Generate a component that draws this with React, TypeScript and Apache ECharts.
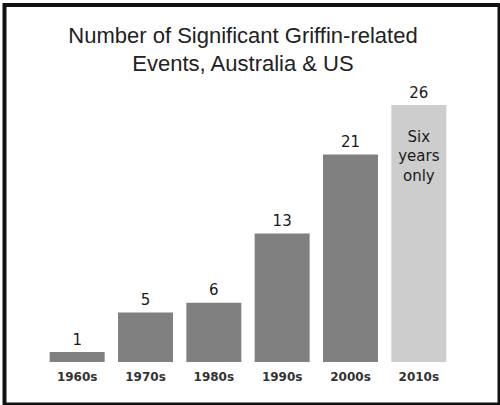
import React, { useEffect, useRef } from "react";
import * as echarts from "echarts";

const categories = ["1960s", "1970s", "1980s", "1990s", "2000s", "2010s"];
const values = [1, 5, 6, 13, 21, 26];
const partialDecade = "2010s";
const partialNote = "Six\nyears\nonly";
const titleText = "Number of Significant Griffin-related\nEvents, Australia & US";

export default function App() {
  const ref = useRef<HTMLDivElement>(null);
  useEffect(() => {
    if (!ref.current) return;
    const chart = echarts.init(ref.current, null, { renderer: "svg" });
    const barData = values.map((v, i) => ({
      value: v,
      itemStyle: { color: categories[i] === partialDecade ? "#cdcdcd" : "#808080" },
    }));
    const noteData = values.map((v, i) => (categories[i] === partialDecade ? v : null));
    chart.setOption({
      animation: false,
      backgroundColor: "#ffffff",
      title: {
        text: titleText,
        left: 238,
        top: 16,
        textAlign: "center",
        textStyle: {
          fontFamily: "Liberation Sans, Arial, sans-serif",
          fontSize: 22,
          fontWeight: "normal",
          color: "#222",
          lineHeight: 28,
        },
      },
      graphic: [
        {
          type: "rect",
          shape: { x: 4.5, y: 5, width: 495, height: 399.5 },
          style: { fill: "none", stroke: "#111", lineWidth: 4 },
          silent: true,
        },
      ],
      grid: { left: 43, right: 47, top: 105, bottom: 43 },
      xAxis: {
        type: "category",
        data: categories,
        axisLine: { show: false },
        axisTick: { show: false },
        axisLabel: {
          margin: 9,
          fontFamily: "DejaVu Sans, Verdana, sans-serif",
          fontSize: 12,
          fontWeight: "bold",
          color: "#333",
        },
      },
      yAxis: {
        type: "value",
        min: 0,
        max: 26,
        show: false,
        splitLine: { show: false },
      },
      series: [
        {
          type: "bar",
          data: barData,
          barWidth: 55,
          label: {
            show: true,
            position: "top",
            distance: 5,
            fontFamily: "DejaVu Sans, Verdana, sans-serif",
            fontSize: 15,
            color: "#1a1a1a",
          },
        },
        {
          type: "bar",
          data: noteData,
          barWidth: 55,
          barGap: "-100%",
          itemStyle: { color: "rgba(0,0,0,0)" },
          silent: true,
          label: {
            show: true,
            position: "insideTop",
            distance: 22,
            formatter: () => partialNote,
            fontFamily: "DejaVu Sans, Verdana, sans-serif",
            fontSize: 15,
            lineHeight: 19.5,
            color: "#1a1a1a",
            align: "center",
          },
        },
      ],
    });
    return () => chart.dispose();
  }, []);
  return (
    <div
      ref={ref}
      style={{ position: "fixed", left: 0, top: 0, width: 500, height: 405 }}
    />
  );
}
